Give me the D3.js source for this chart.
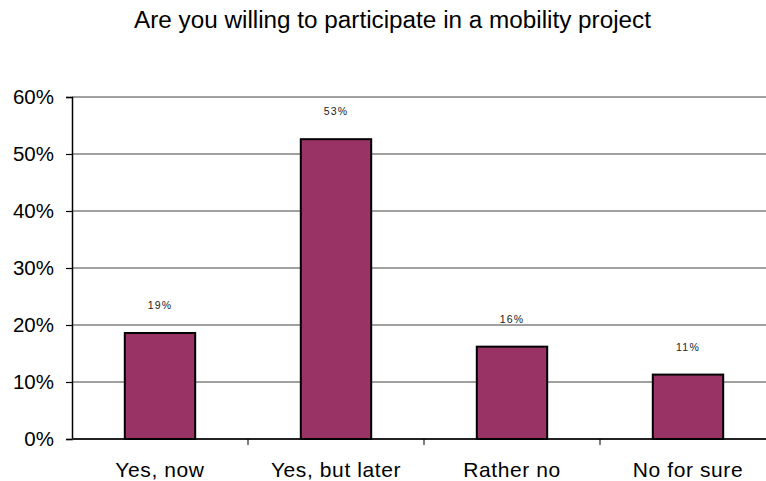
<!DOCTYPE html>
<html>
<head>
<meta charset="utf-8">
<script src="https://cdn.jsdelivr.net/npm/d3@7"></script>
<style>
  html, body { margin: 0; padding: 0; background: #fff; }
  svg { display: block; font-family: "Liberation Sans", Arial, sans-serif; }
</style>
</head>
<body>
<svg id="chart" width="766" height="481"></svg>
<script>
// Survey answers and their shares
const title = "Are you willing to participate in a mobility project";
const categories = ["Yes, now", "Yes, but later", "Rather no", "No for sure"];
const shares = [0.186, 0.526, 0.162, 0.113];
const yTicks = [0, 0.1, 0.2, 0.3, 0.4, 0.5, 0.6];

const svg = d3.select("#chart");
const plotLeft = 72, plotRight = 776, plotTop = 97, plotBottom = 439;

const x = d3.scaleBand().domain(categories).range([plotLeft, plotRight]).padding(0);
const y = d3.scaleLinear().domain([0, 0.6]).range([plotBottom, plotTop]);
const pct = d3.format(".0%");
const barW = x.bandwidth() * 0.4;

// Title
svg.append("text")
  .attr("x", 392.5).attr("y", 28)
  .attr("text-anchor", "middle")
  .attr("font-size", 23.5)
  .attr("textLength", 517)
  .attr("lengthAdjust", "spacingAndGlyphs")
  .attr("fill", "#000")
  .text(title);

// Horizontal gridlines
svg.append("g")
  .selectAll("line")
  .data(yTicks.filter(d => d > 0))
  .join("line")
  .attr("x1", plotLeft).attr("x2", 766)
  .attr("y1", d => y(d)).attr("y2", d => y(d))
  .attr("stroke", "#808080")
  .attr("stroke-width", 1.5);

// Y axis
const yAxis = svg.append("g")
  .attr("transform", `translate(${plotLeft},0)`)
  .call(d3.axisLeft(y).tickValues(yTicks).tickFormat(pct).tickSize(6).tickPadding(12));
yAxis.select(".domain").attr("stroke", "#000").attr("stroke-width", 1.5);
yAxis.selectAll(".tick line").attr("stroke", "#000").attr("stroke-width", 1.2);
yAxis.selectAll("text")
  .attr("font-size", 20.5)
  .attr("font-family", "Liberation Sans, Arial, sans-serif")
  .attr("fill", "#000");

// X axis with boundary ticks between categories
const xAxisG = svg.append("g");
xAxisG.append("line")
  .attr("x1", plotLeft).attr("x2", 766)
  .attr("y1", plotBottom).attr("y2", plotBottom)
  .attr("stroke", "#222").attr("stroke-width", 2);
xAxisG.selectAll("line.sep")
  .data(categories.slice(1))
  .join("line")
  .attr("class", "sep")
  .attr("x1", d => x(d)).attr("x2", d => x(d))
  .attr("y1", plotBottom).attr("y2", plotBottom + 6)
  .attr("stroke", "#000").attr("stroke-width", 1);
xAxisG.selectAll("text")
  .data(categories)
  .join("text")
  .attr("x", d => x(d) + x.bandwidth() / 2)
  .attr("y", 476.5)
  .attr("text-anchor", "middle")
  .attr("font-size", 21)
  .attr("letter-spacing", 0.6)
  .attr("fill", "#000")
  .text(d => d);

// Bars
const data = categories.map((c, i) => ({ c, v: shares[i] }));
svg.append("g")
  .selectAll("rect")
  .data(data)
  .join("rect")
  .attr("x", d => x(d.c) + (x.bandwidth() - barW) / 2)
  .attr("y", d => y(d.v))
  .attr("width", barW)
  .attr("height", d => y(0) - y(d.v))
  .attr("fill", "#993366")
  .attr("stroke", "#000")
  .attr("stroke-width", 2);

// Value labels
svg.append("g")
  .selectAll("text")
  .data(data)
  .join("text")
  .attr("x", d => x(d.c) + x.bandwidth() / 2)
  .attr("y", d => y(d.v) - 24)
  .attr("text-anchor", "middle")
  .attr("font-size", 10.5)
  .attr("letter-spacing", 1.2)
  .attr("fill", "#222")
  .text(d => pct(d.v));
</script>
</body>
</html>
